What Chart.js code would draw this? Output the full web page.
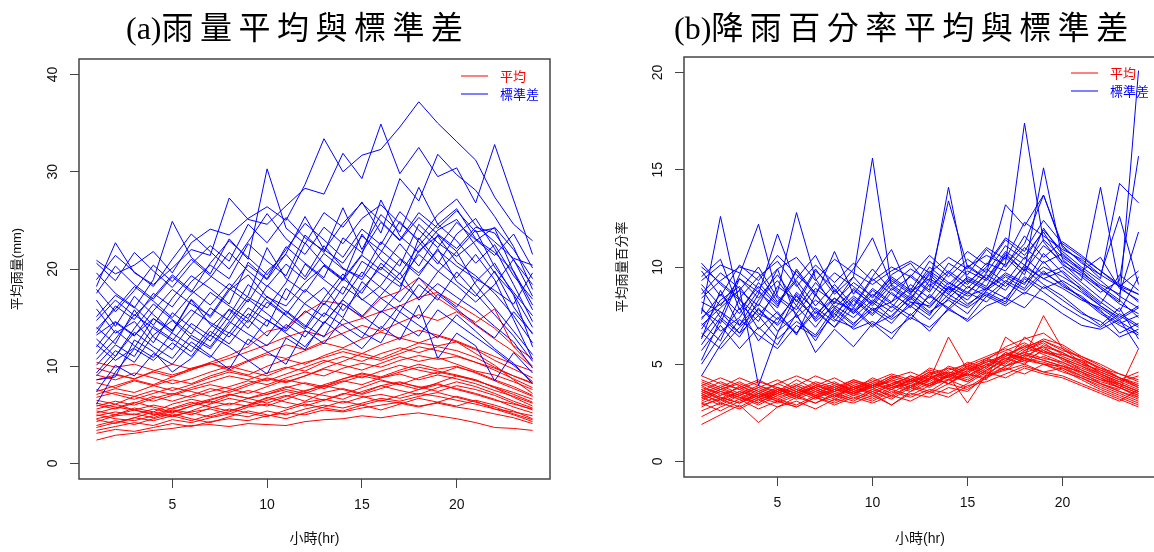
<!DOCTYPE html>
<html lang="zh-Hant">
<head>
    <meta charset="UTF-8">
    <title>雨量與降雨百分率平均與標準差</title>
    <script src="https://cdn.jsdelivr.net/npm/chart.js"></script>
    <style>
        body {
            margin: 0;
            width: 1154px;
            height: 552px;
            overflow: hidden;
            position: relative;
            background: #fff;
        }
        canvas {
            position: absolute;
            top: 0;
        }
        .title {
            position: absolute;
            top: 7px;
            z-index: 2;
            font-size: 32px;
            line-height: 36px;
            color: #000;
            white-space: nowrap;
        }
        .title .lat { font-family: "Liberation Serif", "DejaVu Serif", serif; }
        .title .cjk { font-family: "Noto Sans CJK TC", sans-serif; letter-spacing: 6.5px; }
    </style>
</head>
<body>
    <div class="title" style="left:126px"><span class="lat">(a)</span><span class="cjk">雨量平均與標準差</span></div>
    <div class="title" style="left:674px"><span class="lat">(b)</span><span class="cjk">降雨百分率平均與標準差</span></div>
    <canvas id="rainChart" width="577" height="552" style="left:0"></canvas>
    <canvas id="pctChart" width="582" height="552" style="left:577px"></canvas>

    <script>
        // x axis: hour of day
        const hours = [1,2,3,4,5,6,7,8,9,10,11,12,13,14,15,16,17,18,19,20,21,22,23,24];
        const hourTicks = [5, 10, 15, 20];
        const rainTicks = [0, 10, 20, 30, 40];
        const pctTicks = [0, 5, 10, 15, 20];
        const legendLabels = ['平均', '標準差'];
        const seriesColors = ['#ff0000', '#0000ff'];

        // (a) mean rainfall per station (mm)
        const rainMean = [
            [2.4,2.9,3.1,3.4,3.6,3.9,4.0,3.8,4.1,4.0,3.9,4.3,4.5,4.6,4.9,4.7,5.0,5.2,4.9,4.6,4.2,3.7,3.6,3.4],
            [3.1,3.5,3.3,3.7,4.1,3.8,4.3,4.6,4.4,4.9,5.2,5.0,5.5,5.3,5.7,6.0,6.3,5.9,6.2,5.8,5.5,5.1,4.7,4.1],
            [3.7,4.2,4.7,4.4,4.9,5.3,5.6,5.1,5.8,6.1,5.7,6.3,6.6,6.2,6.8,7.1,6.7,7.2,6.9,6.5,6.1,5.6,5.3,4.9],
            [4.3,4.9,5.1,4.7,5.4,5.0,5.7,6.2,5.9,6.5,7.0,6.4,7.3,7.7,7.2,8.0,8.4,7.8,8.2,7.6,7.1,6.5,6.1,5.6],
            [4.9,5.3,5.0,5.6,5.2,5.9,6.4,6.0,6.7,7.1,7.6,7.2,7.9,8.5,8.1,8.8,9.2,8.6,9.1,8.7,8.2,7.5,6.9,6.2],
            [5.4,5.0,5.7,5.3,6.1,6.6,6.2,7.0,7.5,7.1,7.8,8.3,7.9,8.7,9.3,8.9,9.6,10.2,9.7,10.0,9.3,8.5,7.7,6.9],
            [5.9,6.4,6.0,6.7,7.2,6.8,7.4,7.9,8.5,8.1,8.8,9.4,9.0,9.8,10.3,9.9,10.6,11.1,10.7,11.0,10.4,9.6,8.7,7.8],
            [6.5,6.1,6.9,7.5,7.1,7.8,8.4,9.0,8.6,9.3,9.9,9.5,10.4,11.0,10.5,11.3,11.9,11.4,12.0,11.6,10.9,9.9,9.0,8.3],
            [7.1,7.7,7.3,8.0,8.6,8.2,9.0,9.6,9.1,10.0,10.7,10.2,11.1,11.8,11.3,12.2,12.9,12.4,12.1,12.5,11.7,10.6,9.7,8.8],
            [9.8,9.2,8.7,9.4,8.9,9.8,10.3,9.6,10.5,11.2,10.8,11.6,12.4,11.9,12.8,13.5,12.9,13.7,13.2,12.6,11.8,11.0,10.2,9.5],
            [10.4,9.9,10.2,9.6,9.1,9.7,10.2,10.8,11.5,12.2,13.0,13.6,13.1,14.3,14.9,15.6,16.2,17.1,17.6,16.4,15.2,13.9,12.1,10.8],
            [5.0,4.6,4.4,4.9,5.5,5.2,4.8,5.3,6.0,6.8,6.3,5.9,6.5,7.2,6.9,6.4,7.0,7.6,8.1,7.7,7.2,6.6,5.8,5.2],
            [6.2,5.8,5.5,5.1,4.8,5.4,6.1,6.7,6.3,5.9,6.6,7.3,7.0,6.6,7.4,8.0,7.5,7.1,7.8,8.4,7.9,7.2,6.4,5.7],
            [4.5,4.1,4.7,5.3,4.9,4.4,5.0,5.6,5.2,4.8,5.5,6.1,5.7,5.4,6.0,6.5,6.2,5.8,6.3,6.9,6.4,5.6,5.0,4.3],
            [7.6,7.1,6.6,7.2,7.8,7.4,6.9,7.5,8.2,8.8,8.4,9.0,9.7,9.3,8.8,9.5,10.1,9.6,9.2,9.9,9.4,8.6,7.9,7.0],
            [8.3,7.8,8.5,8.0,7.5,8.1,8.8,9.4,9.0,8.5,9.2,9.9,10.6,10.1,9.6,10.3,11.0,10.5,10.9,10.2,9.5,9.1,8.4,7.6],
            [5.6,6.1,5.5,5.0,5.7,6.3,5.8,5.4,6.0,6.7,7.4,7.0,6.5,7.1,7.8,8.5,8.1,7.6,8.3,9.0,8.6,7.8,7.1,6.3],
            [3.9,4.4,4.0,4.6,5.1,4.6,4.2,4.8,5.4,5.0,4.6,5.2,5.8,6.4,6.0,5.5,6.1,6.7,6.3,5.9,6.5,6.0,5.4,4.6],
            [9.1,8.6,9.3,8.8,8.2,8.7,9.4,10.0,9.5,9.0,9.8,10.4,10.9,11.5,11.0,10.6,11.3,12.0,11.6,11.1,10.4,9.8,9.0,8.2],
            [6.8,7.3,6.9,6.4,7.0,7.6,8.1,7.7,7.2,7.9,8.6,8.2,7.7,8.4,9.0,8.6,8.1,8.8,9.4,9.0,8.5,7.9,7.3,6.6],
            [5.2,5.7,6.3,5.8,5.3,5.9,6.5,7.1,6.7,6.2,6.9,7.5,8.0,7.6,7.1,7.7,8.3,7.9,7.4,8.0,7.6,7.0,6.2,5.5],
            [8.6,9.1,8.7,9.5,10.2,9.7,10.4,11.1,12.0,13.6,14.0,15.5,16.7,16.4,15.0,17.0,17.7,19.1,17.0,15.7,14.5,15.9,12.0,10.0],
            [7.4,8.0,8.6,8.1,8.9,9.6,10.3,9.8,10.6,11.4,12.2,11.7,12.6,13.4,14.2,13.6,14.5,15.3,14.7,15.6,14.2,12.8,11.5,9.9],
            [6.0,5.6,6.2,6.9,6.4,7.0,7.7,7.3,8.0,8.7,8.3,9.0,9.8,10.5,11.3,10.8,11.6,12.4,13.1,12.5,11.3,10.1,8.6,7.2],
            [4.6,5.0,5.5,6.0,5.6,6.1,6.6,7.1,6.7,7.3,7.9,7.4,8.1,8.7,9.2,8.8,9.4,9.9,9.5,9.1,8.6,7.8,6.8,5.9],
            [3.4,3.8,4.2,3.9,4.5,4.2,4.7,5.1,4.8,5.4,5.0,5.6,6.0,5.7,6.2,6.7,6.4,6.9,7.3,6.8,6.3,5.8,5.1,4.5]
        ];

        // (a) standard deviation of rainfall per station
        const rainSd = [
            [20.9,19.5,20.4,21.8,19.6,22.7,24.1,23.5,25.2,26.4,25.0,28.7,33.4,30.0,31.7,32.3,34.6,37.2,35.0,33.1,31.2,27.4,24.6,22.9],
            [18.2,22.7,19.6,18.4,20.1,22.0,21.4,27.3,25.1,24.6,26.5,28.3,27.7,31.9,29.3,34.9,29.8,32.5,29.5,30.4,26.8,32.8,27.1,21.5],
            [15.1,17.3,16.0,18.9,24.9,21.2,19.5,23.1,21.0,30.3,24.2,22.6,25.8,24.3,26.9,23.7,29.3,27.0,31.8,29.7,28.1,25.4,22.3,17.9],
            [13.4,16.2,14.8,17.5,16.1,18.7,20.4,19.0,22.6,20.8,19.3,23.5,21.7,26.3,22.0,25.6,23.8,28.4,24.6,26.2,23.1,21.7,19.8,16.3],
            [12.0,14.5,13.1,15.7,17.9,16.4,15.2,18.0,16.6,19.8,21.5,19.2,22.4,20.1,18.9,21.7,24.9,22.8,20.5,23.6,25.2,22.1,18.4,14.6],
            [10.7,12.8,15.3,13.9,12.6,15.1,17.6,16.2,14.9,18.3,16.8,20.5,18.9,17.4,20.8,19.5,18.2,21.9,23.4,20.7,19.3,17.5,15.2,12.4],
            [9.3,11.6,10.4,13.2,14.7,12.9,11.8,14.3,16.9,15.4,13.8,16.5,18.1,15.7,17.9,20.2,18.6,17.0,19.7,21.8,18.4,16.0,13.6,11.2],
            [6.1,9.4,11.8,10.6,12.4,11.0,13.6,12.3,14.8,13.1,15.7,14.2,13.0,16.4,15.1,17.3,19.6,16.8,18.5,17.1,15.8,14.1,12.5,9.8],
            [7.4,10.1,9.0,11.3,10.2,12.5,11.1,9.7,12.8,11.5,10.2,13.7,12.3,14.9,13.5,12.4,15.6,14.2,12.9,15.3,13.6,11.8,10.3,8.2],
            [8.6,8.9,12.7,11.5,9.4,10.8,13.2,12.0,10.6,9.2,12.9,11.7,14.6,13.2,11.8,14.1,12.7,16.3,10.8,13.4,12.1,8.5,11.4,9.3],
            [16.8,14.1,17.2,15.3,13.6,16.9,15.0,17.8,19.4,17.1,16.2,18.6,20.3,18.8,21.4,19.9,22.6,20.3,23.5,21.8,24.0,20.2,17.6,15.2],
            [19.6,17.5,16.1,14.2,17.0,19.3,18.0,16.4,20.7,19.0,22.3,20.6,19.1,23.2,21.7,24.8,22.9,25.3,23.6,22.1,24.3,23.7,20.9,18.4],
            [14.0,12.3,15.8,13.0,11.7,14.4,13.1,15.9,14.5,17.2,15.6,14.0,17.0,19.5,16.8,18.3,21.0,19.3,22.1,18.7,17.2,19.8,16.1,13.3],
            [11.3,13.7,12.1,10.9,13.5,16.8,14.3,13.0,15.4,14.1,18.0,16.4,15.1,18.2,16.9,15.5,17.8,23.2,20.8,19.1,21.5,18.9,14.8,10.7],
            [12.8,11.0,13.9,16.4,14.8,13.3,16.0,14.7,17.3,22.2,19.0,17.6,20.4,18.9,23.6,21.0,19.5,22.4,24.6,22.9,20.6,22.5,19.3,16.9],
            [17.5,20.3,18.4,16.9,19.2,17.6,20.6,22.9,21.2,19.4,22.0,24.7,23.0,21.2,24.1,22.5,25.9,24.0,22.2,24.8,23.0,21.4,23.6,20.1],
            [13.8,15.9,18.2,16.7,15.0,17.4,19.1,21.7,19.8,18.2,20.5,18.9,21.6,20.0,19.2,22.8,21.1,19.6,21.9,20.3,19.0,17.8,16.4,19.6],
            [10.1,12.2,11.0,14.1,12.8,11.5,14.0,15.8,13.9,16.6,15.2,13.8,16.5,15.0,18.7,17.0,15.6,18.4,16.8,19.7,17.5,15.3,13.1,10.5],
            [15.9,13.4,14.6,12.4,15.5,14.0,12.6,15.2,18.4,16.8,15.3,17.9,16.3,19.0,17.5,20.6,18.9,21.5,19.8,18.3,16.6,18.4,21.0,17.2],
            [20.6,18.8,21.7,19.8,18.1,20.5,22.4,20.8,24.6,22.7,25.3,23.2,21.9,24.7,26.8,24.9,23.0,25.8,24.2,26.0,23.8,24.2,19.7,15.8],
            [12.2,10.6,11.9,14.9,13.4,12.1,10.9,13.5,12.2,14.8,13.4,12.0,14.4,16.8,15.2,13.8,16.3,14.9,17.4,15.9,14.3,12.9,15.6,13.4],
            [14.7,16.8,15.2,17.1,19.4,17.8,16.3,18.5,17.1,16.0,18.6,22.7,20.5,19.0,21.5,27.1,23.4,21.7,24.0,25.1,22.4,19.6,17.4,14.0],
            [9.0,11.0,13.5,12.0,10.8,13.2,12.0,14.6,13.3,12.1,14.3,13.0,15.5,14.2,12.9,15.7,14.4,13.1,15.8,14.4,13.0,11.6,10.1,8.4],
            [17.9,15.6,17.8,20.4,18.7,21.0,19.3,17.9,20.4,18.9,21.6,25.4,22.0,20.6,23.4,21.9,20.3,24.6,22.7,21.3,22.9,24.3,22.0,19.0],
            [13.2,14.6,13.2,14.9,13.7,15.8,14.5,13.4,16.0,14.7,13.6,15.7,14.4,16.9,19.7,18.1,16.6,19.1,17.6,16.1,18.7,20.6,17.3,12.0],
            [18.9,21.4,19.7,18.2,21.0,23.6,21.8,20.0,22.8,25.7,23.1,21.5,24.3,22.6,25.2,26.6,24.7,23.0,25.6,27.2,24.5,22.8,21.1,20.4]
        ];

        // (b) mean rain percentage per station
        const pctMean = [
            [1.9,2.4,2.9,2.0,2.8,3.1,2.7,3.2,3.0,3.4,2.9,3.5,3.3,3.8,3.6,4.4,4.9,5.2,5.0,4.6,4.3,3.8,3.4,3.0],
            [3.4,3.1,3.6,3.2,3.5,3.9,3.4,3.7,3.5,3.9,4.1,3.8,4.3,4.6,4.4,4.9,5.3,5.6,5.9,5.2,4.8,4.4,3.9,3.5],
            [3.8,3.5,3.2,3.7,3.3,3.6,4.0,3.5,3.8,4.2,3.9,4.4,4.1,4.7,5.0,4.6,5.4,5.9,5.5,5.1,4.6,4.2,4.0,3.6],
            [3.1,3.6,3.3,2.9,3.4,3.8,3.3,3.6,3.9,3.6,4.0,4.3,3.9,4.5,4.2,4.8,5.6,5.3,6.0,5.6,5.0,4.5,4.1,3.7],
            [4.4,4.0,3.7,4.1,3.8,3.5,3.9,3.6,4.0,3.7,4.2,3.8,4.5,4.2,4.8,5.2,4.9,5.5,5.2,4.9,4.6,4.0,3.6,3.2],
            [3.6,3.2,3.9,3.4,3.1,3.5,3.8,3.4,3.7,4.1,3.8,4.0,4.6,4.3,4.9,4.5,5.1,6.4,5.7,5.3,4.9,4.5,4.1,4.4],
            [2.8,3.3,3.0,3.5,3.2,2.9,3.4,3.1,3.5,3.2,3.7,3.4,3.9,4.2,3.8,4.4,4.7,5.0,4.6,4.8,4.3,3.9,3.5,3.1],
            [3.3,2.9,3.4,3.8,3.4,3.7,3.3,3.8,3.4,3.9,3.5,4.1,4.4,4.0,4.6,5.0,4.7,5.4,7.5,5.8,5.1,4.6,4.2,3.8],
            [4.0,3.6,3.3,3.0,3.6,4.2,3.7,3.3,3.7,4.3,3.9,3.6,4.2,6.4,4.7,5.1,5.5,5.1,5.4,5.0,4.5,4.1,3.8,3.4],
            [3.5,3.9,3.5,3.1,3.7,3.3,3.9,4.3,3.8,3.4,4.0,3.7,4.3,4.0,4.5,4.2,6.4,5.7,6.2,5.8,5.3,4.8,4.3,3.9],
            [2.6,3.0,2.7,3.2,2.8,3.3,3.0,3.4,3.1,3.6,3.2,3.8,3.5,4.0,3.7,4.3,4.8,4.5,5.0,4.7,4.2,3.7,3.3,2.9],
            [3.9,3.4,3.8,4.2,3.7,3.4,3.8,4.1,3.6,3.9,4.4,4.1,4.6,4.3,4.9,5.3,5.0,5.7,6.1,5.5,5.2,4.8,4.5,4.1],
            [3.2,3.7,4.1,3.6,3.2,3.6,3.2,3.7,4.2,3.8,3.3,3.9,4.2,4.8,4.4,5.0,5.4,6.0,5.6,5.3,4.7,4.3,3.8,3.3],
            [3.7,3.3,3.0,3.4,3.8,3.3,3.7,3.3,3.9,3.5,2.9,3.6,4.0,4.4,3.0,4.5,5.1,5.5,5.2,4.9,4.4,4.0,3.7,5.8],
            [3.0,3.4,3.8,3.3,3.6,4.0,3.6,3.2,3.6,4.0,3.7,4.2,3.9,4.4,4.8,4.4,5.2,5.8,6.3,6.0,5.4,4.9,4.3,3.8],
            [4.2,3.8,4.3,3.9,3.5,3.9,4.4,4.0,3.7,4.1,4.5,4.2,4.7,4.4,5.0,5.4,5.8,5.4,5.9,5.6,5.1,4.6,4.2,4.6],
            [2.3,2.8,3.2,2.7,3.1,2.8,3.3,2.9,3.3,3.0,3.4,3.1,3.6,3.3,3.9,4.1,4.5,4.9,4.6,4.4,4.0,3.6,3.2,2.8],
            [3.5,3.0,3.5,3.9,3.6,3.2,3.6,4.0,3.6,3.3,3.8,4.2,3.8,4.4,4.1,4.7,5.3,5.0,5.8,5.4,5.0,4.7,4.3,3.9],
            [3.6,4.1,3.7,3.3,3.8,3.5,3.9,3.6,4.1,3.8,4.3,4.6,4.2,4.9,4.6,5.3,5.7,6.1,5.6,5.5,5.2,4.5,4.0,3.6],
            [3.3,3.7,3.4,3.8,4.2,3.7,3.4,3.9,3.5,3.8,4.2,3.9,4.4,4.0,4.7,5.1,5.5,5.3,5.0,4.9,4.6,4.2,3.8,3.4],
            [2.9,3.2,2.8,3.3,3.0,3.4,3.0,3.5,3.2,3.7,3.4,3.9,3.6,4.2,4.5,4.3,4.9,5.3,5.1,4.8,4.4,4.0,3.6,3.3],
            [4.1,3.7,4.0,3.6,4.0,4.4,4.0,3.7,4.1,3.8,4.3,4.0,4.5,4.8,4.5,5.2,5.9,6.3,6.6,5.9,5.3,4.7,4.3,4.0],
            [3.4,3.8,3.4,3.0,3.5,3.9,3.5,3.9,3.5,4.0,3.7,4.2,3.9,4.5,4.1,4.7,5.2,5.6,5.3,5.1,4.7,4.3,3.9,3.5],
            [3.7,3.2,3.6,3.3,3.7,3.4,3.8,3.4,3.8,3.5,3.9,4.4,4.0,4.6,4.3,4.9,5.6,5.2,5.7,5.3,4.9,4.4,4.0,3.6],
            [3.0,2.6,3.1,3.5,3.1,2.8,3.3,3.0,3.4,3.1,3.6,3.3,3.7,3.5,4.0,4.6,4.3,4.8,4.5,4.3,3.9,3.5,3.1,3.7],
            [3.9,4.3,3.9,3.5,4.0,3.6,4.1,3.8,4.2,3.9,4.4,4.1,4.8,4.5,5.1,4.8,5.5,5.9,6.2,5.7,5.4,5.0,4.5,4.2]
        ];

        // (b) standard deviation of rain percentage per station
        const pctSd = [
            [7.6,12.6,8.1,7.2,9.0,8.3,7.4,8.8,7.9,9.4,8.6,8.0,9.1,8.4,9.3,8.8,10.2,17.4,11.3,10.1,9.6,8.9,8.2,20.1],
            [8.9,7.4,9.6,12.2,8.5,7.8,9.2,8.1,9.5,15.6,9.0,8.3,9.7,8.9,10.1,9.4,10.6,9.8,15.1,10.4,9.5,8.7,9.3,15.7],
            [6.3,8.8,7.0,8.6,11.7,9.1,7.6,8.4,7.7,8.9,8.2,9.6,8.8,14.1,9.2,10.0,11.4,10.6,11.8,10.2,9.3,14.1,9.0,8.2],
            [10.2,9.1,8.3,7.5,8.7,12.8,9.4,7.9,8.8,8.1,9.3,8.6,10.0,9.2,8.6,9.7,13.2,12.1,13.7,11.0,10.3,9.4,14.3,13.3],
            [5.2,7.3,6.4,7.9,6.7,7.5,6.2,7.8,7.0,8.2,7.4,8.5,7.7,8.3,7.6,8.8,9.5,8.9,10.3,9.2,8.4,7.8,6.6,7.1],
            [7.1,6.2,8.4,6.8,7.7,6.5,8.6,7.3,6.9,7.8,7.1,8.2,7.5,9.0,8.1,8.7,8.2,9.9,9.1,8.5,7.7,7.0,7.9,6.3],
            [9.5,10.4,7.8,9.0,8.0,9.8,8.5,10.8,8.6,9.9,8.8,9.5,8.7,10.2,9.6,10.9,10.0,11.6,10.5,11.3,10.6,9.8,9.1,8.6],
            [4.4,6.0,7.3,6.5,5.8,7.0,6.4,7.6,6.8,7.2,6.6,7.4,6.9,7.8,7.3,8.5,8.0,8.7,8.3,7.6,7.0,6.8,7.3,5.8],
            [8.2,7.7,6.6,8.3,9.3,8.0,9.8,8.9,7.6,8.6,7.9,9.1,8.4,9.7,8.9,9.9,9.2,10.5,9.6,10.0,9.2,8.4,7.7,9.5],
            [6.8,8.3,9.0,7.6,7.1,8.7,7.8,6.9,8.3,7.5,8.7,7.9,9.3,8.6,9.5,9.0,10.7,9.8,11.1,10.3,9.7,9.0,8.3,7.4],
            [7.9,6.7,7.4,8.8,7.6,6.6,7.9,7.2,8.4,7.6,8.9,8.2,8.0,8.9,8.3,9.4,8.8,10.1,9.4,9.8,9.0,8.2,7.5,6.9],
            [9.8,8.5,10.1,9.3,10.6,9.6,8.7,9.7,9.0,8.2,9.5,8.8,10.3,9.5,10.4,9.7,11.1,10.4,11.9,10.8,10.0,9.3,8.5,7.9],
            [5.7,7.0,5.8,6.9,6.0,7.6,5.6,6.8,5.9,7.1,6.3,7.6,6.7,7.9,7.2,8.0,8.4,7.9,9.0,8.3,7.6,7.2,6.4,6.8],
            [8.6,9.7,8.9,3.9,6.6,8.6,7.2,8.0,7.4,8.3,7.7,8.6,7.9,9.0,8.5,8.9,9.6,9.1,10.7,9.7,8.8,8.0,7.4,8.0],
            [6.6,5.8,6.9,7.8,7.0,8.0,6.9,8.2,7.8,6.9,8.0,7.3,8.6,7.8,8.7,8.2,9.2,8.6,9.7,9.1,8.4,7.6,7.0,6.5],
            [7.3,8.6,7.6,9.2,8.1,9.3,8.0,9.1,8.0,9.5,10.9,8.7,9.4,8.8,9.8,9.3,10.5,9.6,12.0,10.6,9.9,9.1,8.6,11.8],
            [9.1,8.0,9.4,8.4,9.6,8.2,9.9,8.6,9.5,8.4,9.6,10.2,9.0,9.8,9.1,10.2,9.8,11.0,10.2,10.7,9.8,10.5,8.9,8.3],
            [6.0,7.4,6.6,7.5,6.3,7.2,6.5,7.9,7.1,7.9,7.3,8.0,7.3,8.4,7.9,8.6,8.1,9.4,8.7,8.0,7.4,6.9,7.6,7.0],
            [8.4,9.3,10.0,9.7,8.2,9.4,10.6,8.7,9.9,11.5,9.1,9.9,9.3,13.4,10.0,10.6,10.1,11.2,13.7,11.1,10.2,9.6,12.6,9.1],
            [7.0,7.9,8.8,8.0,9.9,7.4,8.3,7.6,8.5,7.8,8.2,8.9,8.1,9.2,8.7,9.6,9.0,10.0,9.4,8.9,8.3,7.9,7.2,6.6],
            [5.0,6.5,7.9,6.2,7.4,6.6,7.7,6.9,7.9,7.0,7.5,8.4,7.6,8.6,8.0,8.9,8.4,9.5,8.9,9.3,8.7,8.0,7.3,7.9],
            [10.0,9.2,8.4,9.5,10.3,9.0,10.1,9.2,10.2,9.3,10.0,9.5,10.6,9.7,10.8,10.1,11.5,10.8,12.4,11.2,10.5,9.8,9.0,8.6],
            [7.8,7.1,9.4,8.7,7.9,9.9,8.6,7.4,8.9,8.0,9.1,8.4,9.6,8.7,9.4,8.9,9.7,9.2,10.0,9.5,8.9,8.1,9.6,8.8],
            [6.4,7.7,7.0,8.1,7.3,8.5,7.3,8.4,7.6,8.8,8.1,7.5,8.5,7.9,9.0,8.5,9.3,8.8,9.8,9.0,8.5,7.7,7.1,7.5],
            [9.3,10.1,9.7,8.9,9.9,10.5,9.3,10.4,9.7,9.1,9.8,10.3,9.7,10.5,9.9,11.0,10.4,12.3,11.6,10.9,10.4,9.6,9.0,9.8],
            [7.4,8.1,8.8,10.0,8.4,7.6,8.9,8.2,9.2,8.5,9.4,8.7,9.8,9.1,10.0,9.4,10.8,10.1,11.4,10.5,9.8,8.9,8.1,7.6]
        ];

        Chart.defaults.font.family = '"Liberation Sans", Arial, "Noto Sans CJK TC", sans-serif';
        Chart.defaults.color = '#111';

        // R-style box around the plot region plus the little key in the corner
        const boxAndKey = {
            id: 'boxAndKey',
            afterDatasetsDraw(chart, args, opts) {
                const { ctx, chartArea: a } = chart;
                ctx.save();
                ctx.strokeStyle = '#444';
                ctx.lineWidth = 1.5;
                ctx.strokeRect(a.left, a.top, a.right - a.left, a.bottom - a.top);

                ctx.font = '13px "Noto Sans CJK TC", sans-serif';
                ctx.textBaseline = 'middle';
                legendLabels.forEach((label, i) => {
                    const y = a.top + opts.dy + i * 18;
                    const x0 = a.right - opts.dx;
                    ctx.strokeStyle = seriesColors[i];
                    ctx.lineWidth = 1;
                    ctx.beginPath();
                    ctx.moveTo(x0, y);
                    ctx.lineTo(x0 + 27, y);
                    ctx.stroke();
                    ctx.fillStyle = seriesColors[i];
                    ctx.fillText(label, x0 + 39, y);
                });
                ctx.restore();
            }
        };

        function toPoints(values) {
            return values.map((v, i) => ({ x: hours[i], y: v }));
        }

        function makeChart(id, meanSeries, sdSeries, yRange, yTicks, yTitle, pad, key) {
            // blue first so it is drawn on top of the red
            const datasets = [];
            sdSeries.forEach(s => datasets.push({ data: toPoints(s), borderColor: seriesColors[1] }));
            meanSeries.forEach(s => datasets.push({ data: toPoints(s), borderColor: seriesColors[0] }));

            return new Chart(document.getElementById(id), {
                type: 'line',
                data: { datasets: datasets },
                options: {
                    responsive: false,
                    animation: false,
                    devicePixelRatio: 1,
                    layout: { padding: pad },
                    elements: {
                        line: { borderWidth: 1, tension: 0 },
                        point: { radius: 0 }
                    },
                    plugins: {
                        legend: { display: false },
                        tooltip: { enabled: false },
                        boxAndKey: key
                    },
                    scales: {
                        x: {
                            type: 'linear',
                            min: 0.08,
                            max: 24.92,
                            afterBuildTicks: s => { s.ticks = hourTicks.map(v => ({ value: v })); },
                            afterFit: s => { s.height = 552 - pad.top - 420; },
                            grid: { drawOnChartArea: false, tickLength: 9, color: '#444' },
                            border: { display: false },
                            ticks: { padding: 9, font: { size: 14 }, maxRotation: 0 },
                            title: { display: true, text: '小時(hr)', font: { size: 14 }, padding: { top: 0, bottom: 4 } }
                        },
                        y: {
                            min: yRange[0],
                            max: yRange[1],
                            afterBuildTicks: s => { s.ticks = yTicks.map(v => ({ value: v })); },
                            afterFit: s => { s.width = 79; },
                            grid: { drawOnChartArea: false, tickLength: 9, color: '#444' },
                            border: { display: false },
                            ticks: { padding: 9, font: { size: 14 }, minRotation: 90, maxRotation: 90, crossAlign: 'center' },
                            title: { display: true, text: yTitle, font: { size: 13 }, padding: { top: 10, bottom: 0 } }
                        }
                    }
                },
                plugins: [boxAndKey]
            });
        }

        makeChart('rainChart', rainMean, rainSd, [-1.6, 41.6], rainTicks, '平均雨量(mm)',
            { top: 59, right: 27, bottom: 0, left: 0 }, { dx: 89, dy: 17 });
        // the right panel's box runs past the page edge, as in the source figure
        makeChart('pctChart', pctMean, pctSd, [-0.8, 20.8], pctTicks, '平均雨量百分率',
            { top: 57, right: 3, bottom: 0, left: 28 }, { dx: 85, dy: 16 });
    </script>
</body>
</html>
